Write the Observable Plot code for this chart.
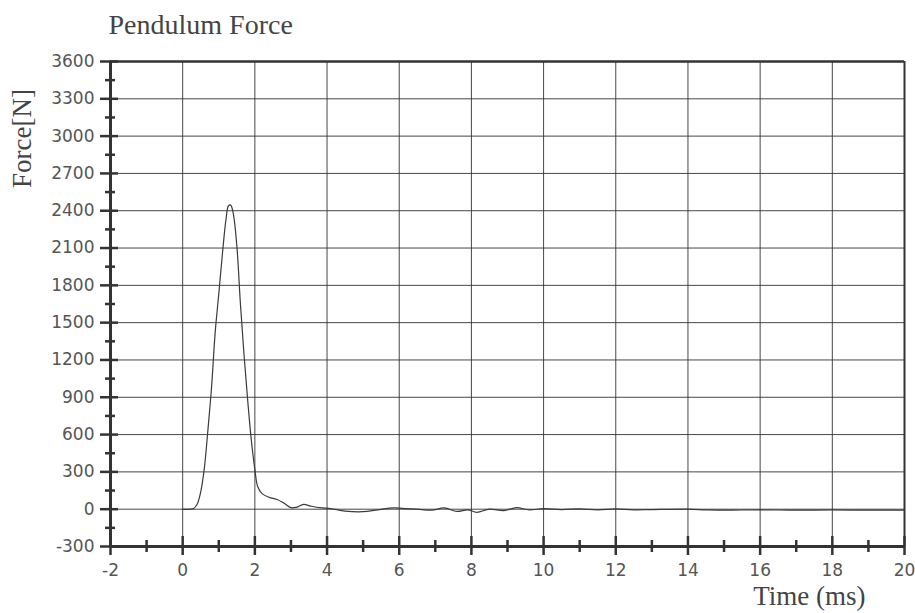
<!DOCTYPE html>
<html>
<head>
<meta charset="utf-8">
<script src="https://cdn.jsdelivr.net/npm/d3@7"></script>
<script src="https://cdn.jsdelivr.net/npm/@observablehq/plot@0.6"></script>
<style>
  html, body { margin: 0; padding: 0; background: #fff; }
</style>
</head>
<body>
<div id="chart"></div>
<script>
const title = "Pendulum Force";
const yLabel = "Force[N]";
const xLabel = "Time (ms)";

const time = [0, 0.2, 0.3, 0.4, 0.5, 0.6, 0.7, 0.8, 0.9, 1.0, 1.1, 1.2, 1.27, 1.33, 1.4, 1.5, 1.6, 1.7, 1.8, 1.9, 2.0, 2.08, 2.2, 2.4, 2.6, 2.8, 3.0, 3.15, 3.35, 3.55, 3.8, 4.1, 4.5, 5.0, 5.4, 5.85, 6.2, 6.5, 6.9, 7.25, 7.6, 7.9, 8.15, 8.5, 8.9, 9.25, 9.6, 10.0, 10.5, 11.0, 11.5, 12.0, 12.5, 13.0, 14.0, 14.5, 15.0, 16.0, 17.0, 18.0, 19.0, 20.0];
const force = [0, 0, 5, 40, 140, 330, 640, 980, 1420, 1730, 2050, 2330, 2440, 2445, 2380, 2120, 1650, 1240, 880, 560, 320, 180, 125, 95, 80, 50, 12, 15, 38, 25, 12, 5, -15, -20, -5, 10, 5, 0, -8, 10, -18, -5, -25, 0, -12, 12, -5, 5, -3, 3, -5, 2, -5, -3, 0, -5, -8, -5, -8, -6, -8, -8];

const xMajor = [-2, 0, 2, 4, 6, 8, 10, 12, 14, 16, 18, 20];
const xMinor = [-1, 1, 3, 5, 7, 9, 11, 13, 15, 17, 19];
const yMajor = [-300, 0, 300, 600, 900, 1200, 1500, 1800, 2100, 2400, 2700, 3000, 3300, 3600];
const yMinor = [-150, 150, 450, 750, 1050, 1350, 1650, 1950, 2250, 2550, 2850, 3150, 3450];

const data = time.map((t, i) => ({t, f: force[i]}));
const ink = "#333";
const font = "'Liberation Serif', 'DejaVu Serif', serif";
const tickFont = "'DejaVu Sans', Verdana, sans-serif";
const fmt = d => String(d);

const chart = Plot.plot({
  width: 915,
  height: 613,
  marginLeft: 110,
  marginRight: 11,
  marginTop: 61,
  marginBottom: 67,
  style: {fontFamily: font, color: ink, background: "#fff"},
  x: {domain: [-2, 20], axis: null},
  y: {domain: [-300, 3600], axis: null},
  marks: [
    Plot.gridX(xMajor, {stroke: ink, strokeOpacity: 0.9, strokeWidth: 1}),
    Plot.gridY(yMajor, {stroke: ink, strokeOpacity: 0.9, strokeWidth: 1}),
    Plot.ruleX([20], {stroke: ink, strokeWidth: 2}),
    Plot.ruleY([3600], {stroke: ink, strokeWidth: 2.5}),
    Plot.ruleX([-2], {stroke: ink, strokeWidth: 3}),
    Plot.ruleY([-300], {stroke: ink, strokeWidth: 3}),
    Plot.ruleX(xMajor, {y1: -300, y2: -300, insetTop: -10, insetBottom: -9, stroke: ink, strokeWidth: 2.5}),
    Plot.ruleX(xMinor, {y1: -300, y2: -300, insetTop: -6, insetBottom: -6, stroke: ink, strokeWidth: 2.5}),
    Plot.ruleY(yMajor, {x1: -2, x2: -2, insetLeft: -10, insetRight: -8, stroke: ink, strokeWidth: 2.5}),
    Plot.ruleY(yMinor, {x1: -2, x2: -2, insetLeft: -5, insetRight: -5, stroke: ink, strokeWidth: 2.5}),
    Plot.axisX(xMajor, {tickSize: 0, tickPadding: 17, fontSize: 17, fontFamily: tickFont, fill: "#555", tickFormat: fmt, label: null}),
    Plot.axisY(yMajor, {tickSize: 0, tickPadding: 16, fontSize: 17, fontFamily: tickFont, fill: "#555", tickFormat: fmt, label: null}),
    Plot.line(data, {x: "t", y: "f", curve: "catmull-rom", stroke: "#3a3a3a", strokeWidth: 1.2}),
    Plot.text([title], {frameAnchor: "top-left", textAnchor: "start", lineAnchor: "bottom", dx: -2, dy: -28, fontSize: 28, fill: "#444"}),
    Plot.text([yLabel], {frameAnchor: "top-left", rotate: -90, textAnchor: "middle", lineAnchor: "middle", dx: -88, dy: 77, fontSize: 27, fill: "#444"}),
    Plot.text([xLabel], {frameAnchor: "bottom-right", textAnchor: "end", lineAnchor: "middle", dx: -39, dy: 50, fontSize: 27, fill: "#444"})
  ]
});
document.getElementById("chart").appendChild(chart);
</script>
</body>
</html>
